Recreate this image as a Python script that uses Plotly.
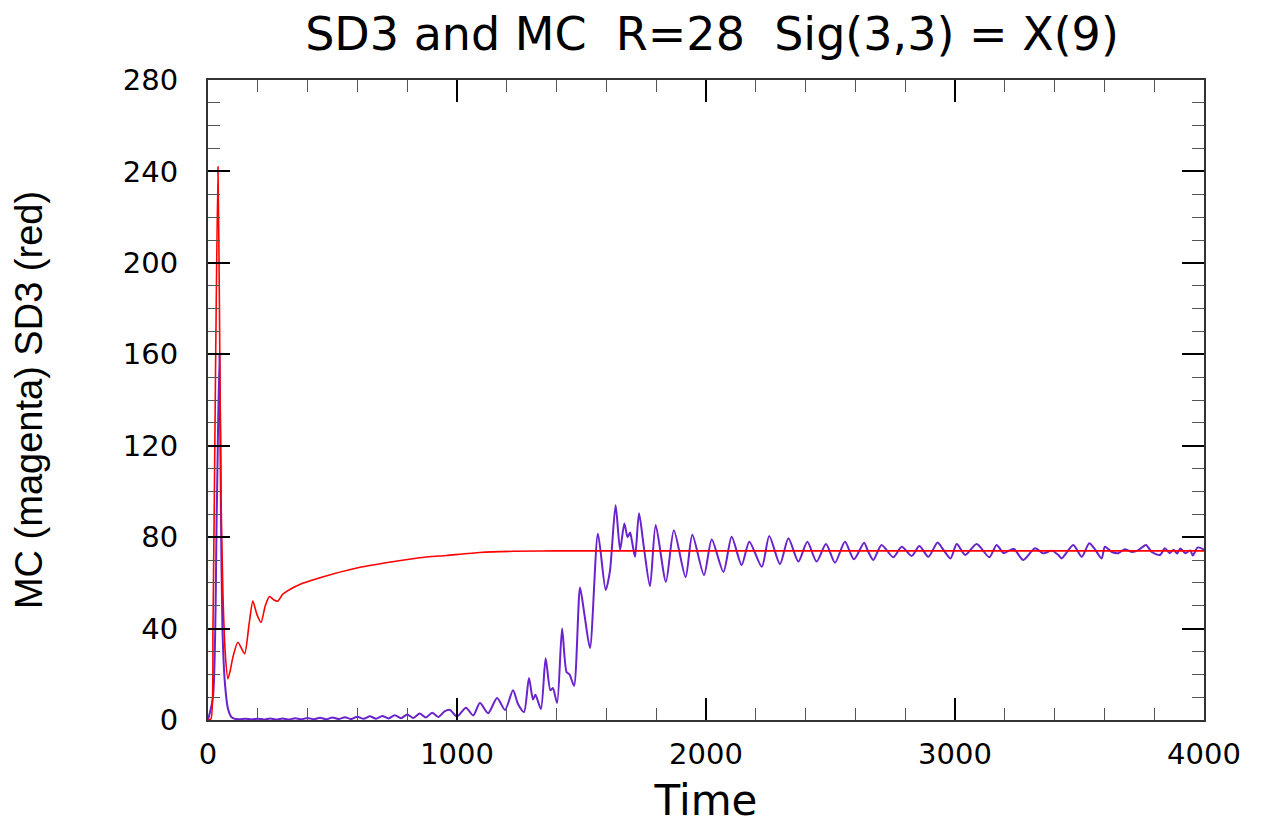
import plotly.graph_objects as go

# ---------------- data ----------------
sd3_t = [0, 12, 20, 30, 40, 46, 52, 60, 70, 80, 90, 100, 120, 147, 165, 180, 197, 213,
         230, 247, 265, 280, 300, 327, 380, 460, 593, 727, 850, 958, 1092, 1225, 1400, 4000]
sd3_v = [0, 0.5, 40, 150, 242, 180, 100, 55, 28, 18, 22, 27.5, 34, 29, 42, 52, 46, 42.7,
         50, 54, 52.5, 52, 55, 57, 59.8, 62.6, 66.4, 69, 71, 72, 73.3, 73.8, 74, 74]

mc_t = [0, 20, 35, 46, 52, 58, 68, 80, 90, 100, 125, 150, 175, 200, 225, 250, 275, 300,
        325, 350, 375, 400, 425, 450, 475, 500, 525, 550, 575, 600, 625, 650, 675, 700,
        725, 750, 775, 800, 825, 850, 875, 900, 925, 950, 972, 1000, 1036, 1065, 1092,
        1125, 1161, 1193, 1225, 1245, 1269, 1289, 1305, 1315, 1337, 1356, 1375, 1385,
        1402, 1422, 1440, 1452, 1470, 1494, 1512, 1534, 1566, 1597, 1614, 1637, 1655,
        1672, 1685, 1695, 1703, 1715, 1731, 1750, 1775, 1798, 1839, 1871, 1918, 1945,
        1992, 2023, 2070, 2103, 2143, 2174, 2224, 2254, 2297, 2331, 2371, 2407, 2444,
        2482, 2518, 2558, 2594, 2635, 2650, 2672, 2705, 2752, 2786, 2826, 2857, 2893,
        2930, 2950, 2982, 3007, 3041, 3087, 3138, 3167, 3195, 3215, 3237, 3274, 3321,
        3355, 3388, 3415, 3428, 3475, 3509, 3539, 3560, 3589, 3602, 3630, 3655, 3683,
        3710, 3735, 3767, 3790, 3823, 3843, 3862, 3878, 3892, 3905, 3925, 3945, 3955,
        3975, 4000]
mc_v = [0, 10, 90, 160, 90, 40, 16, 5, 2, 0.8, 0.3, 0.6, 0.2, 0.6, 0.2, 0.7, 0.2, 0.7,
        0.2, 0.8, 0.3, 0.9, 0.3, 1.0, 0.3, 1.1, 0.4, 1.2, 0.4, 1.4, 0.5, 1.6, 0.6, 1.8,
        0.7, 2.1, 0.8, 2.4, 0.9, 2.8, 1.1, 3.2, 1.3, 3.8, 4.4, 1.5, 5.4, 2.0, 7.4,
        3.0, 9.6, 4.4, 13, 7, 3.5, 18.4, 9, 11, 4.8, 27, 13, 14,
        7.4, 40, 21, 20, 15, 58, 46, 31.5, 81.5, 56.9, 65, 94, 74.4,
        86, 80, 82, 78, 71.4, 90.5, 76, 58.5, 85.3, 60.5, 83, 62.5, 81,
        63.4, 79, 64.8, 80.2, 67.8, 78, 67, 80.5, 68.2, 79.5, 69.3, 78, 69.3,
        77, 68.8, 78, 70.3, 77.6, 74, 70, 76.6, 71.2, 75.8, 71.8, 76.1, 71.4,
        77.7, 75, 70.7, 77, 72.2, 77, 71.2, 76.6, 73, 74, 74.8, 70, 75.1,
        72.9, 74.1, 72.2, 70.7, 76.6, 71.4, 77.3, 75, 70.7, 75.8, 73.5, 73, 74.7,
        73.5, 74.2, 76.6, 73.5, 72.2, 75.1, 73, 74.5, 72.8, 75.0, 73, 74.2, 72,
        75.5, 74.5]

x_ticks = [0, 1000, 2000, 3000, 4000]
y_ticks = [0, 40, 80, 120, 160, 200, 240, 280]

title_text = "SD3 and MC\u00a0\u00a0R=28\u00a0\u00a0Sig(3,3) = X(9)"
x_title = "Time"
y_title = "MC (magenta) SD3 (red)"

# ---------------- figure ----------------
fig = go.Figure()
fig.add_trace(go.Scatter(x=mc_t, y=mc_v, mode="lines",
                         line=dict(color="#6a22cc", width=2, shape="spline", smoothing=0.7),
                         showlegend=False))
fig.add_trace(go.Scatter(x=sd3_t, y=sd3_v, mode="lines",
                         line=dict(color="#ff0000", width=1.6, shape="spline", smoothing=0.6),
                         showlegend=False))

tick_font = dict(family="DejaVu Sans", size=29, color="black")

# page adds an 8px body margin, so the figure is sized/offset to compensate
fig.update_layout(
    width=1267, height=817,
    paper_bgcolor="white", plot_bgcolor="white",
    margin=dict(l=200, r=71, t=72, b=105),
    title=dict(text=title_text, x=704 / 1267, xanchor="center", xref="container",
               y=1 - 26 / 817, yanchor="middle", yref="container",
               font=dict(family="DejaVu Sans", size=46, color="black")),
)
fig.update_xaxes(
    range=[0, 4000], tickvals=x_ticks, ticktext=[str(v) for v in x_ticks],
    automargin=False,
    showgrid=False, zeroline=False, showline=True, linecolor="#333333", linewidth=2,
    mirror="ticks", ticks="inside", ticklen=22, tickwidth=1.5, tickcolor="black",
    minor=dict(dtick=200, tick0=0, ticks="inside", ticklen=12, tickwidth=1, tickcolor="#555555", showgrid=False),
    tickfont=tick_font, ticklabelstandoff=7,
    title=dict(text=x_title, font=dict(family="DejaVu Sans", size=42, color="black"), standoff=16),
)
fig.update_yaxes(
    range=[0, 280], tickvals=y_ticks, ticktext=[str(v) for v in y_ticks],
    automargin=False,
    showgrid=False, zeroline=False, showline=True, linecolor="#333333", linewidth=2,
    mirror="ticks", ticks="inside", ticklen=22, tickwidth=1.5, tickcolor="black",
    minor=dict(dtick=10, tick0=0, ticks="inside", ticklen=12, tickwidth=1, tickcolor="#555555", showgrid=False),
    tickfont=tick_font, ticklabelstandoff=22,
    title=dict(text=y_title, font=dict(family="Liberation Sans", size=38, color="black"), standoff=72),
)

fig.write_html("out.html")
